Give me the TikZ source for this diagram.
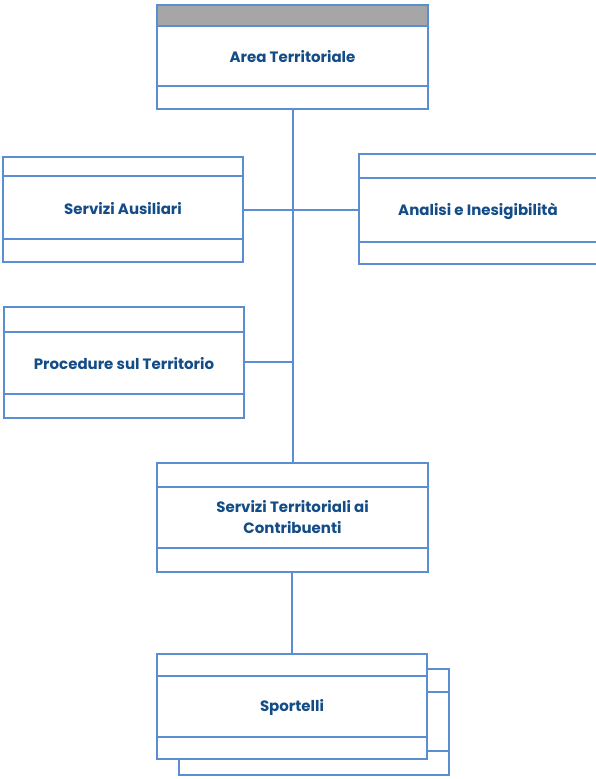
\documentclass[tikz,border=0pt]{standalone}
\usepackage{fontspec}
\setmainfont{Poppins}
\definecolor{lineblue}{HTML}{5B8DD3}
\definecolor{txtblue}{HTML}{134C86}
\definecolor{hdrgrey}{HTML}{A6A6A6}
\begin{document}
\begin{tikzpicture}[x=1pt,y=-1pt,
  boxst/.style={draw=lineblue,line width=1.3pt,fill=white,inner sep=0pt,outer sep=0pt},
  sep/.style={draw=lineblue,line width=1.3pt},
  conn/.style={draw=lineblue,line width=1.6pt},
  lbl/.style={text=txtblue,font=\bfseries\fontsize{15}{21}\selectfont,align=center,inner sep=0pt}]
\useasboundingbox (0,0) rectangle (596,779);
\clip (0,0) rectangle (596,779);
% Area Territoriale
\fill[hdrgrey] (157,5) rectangle (428,26);
\node[boxst,fill=none,minimum width=271pt,minimum height=104pt] (area) at (292.5,57) {};
\draw[sep] (157,26) -- (428,26) (157,86) -- (428,86);
\node[lbl] (areat) at (292.5,57) {Area Territoriale};
% Servizi Ausiliari
\node[boxst,minimum width=240pt,minimum height=105pt] (aus) at (123,209.5) {};
\draw[sep] (3,176) -- (243,176) (3,239) -- (243,239);
\node[lbl] (aust) at (123,209) {Servizi Ausiliari};
% Analisi e Inesigibilita
\node[boxst,minimum width=240pt,minimum height=110pt] (ana) at (479,209) {};
\draw[sep] (359,178) -- (599,178) (359,242) -- (599,242);
\node[lbl] (anat) at (478,211) {Analisi e Inesigibilità};
% Procedure sul Territorio
\node[boxst,minimum width=240pt,minimum height=111pt] (proc) at (124,362.5) {};
\draw[sep] (4,332) -- (244,332) (4,394) -- (244,394);
\node[lbl] (proct) at (124,364) {Procedure sul Territorio};
% Servizi Territoriali ai Contribuenti
\node[boxst,minimum width=271pt,minimum height=109pt] (stc) at (292.5,517.5) {};
\draw[sep] (157,487) -- (428,487) (157,548) -- (428,548);
\node[lbl] (stct) at (292.5,517.5) {Servizi Territoriali ai\\Contribuenti};
% Sportelli (stacked)
\node[boxst,minimum width=270pt,minimum height=106pt] (spb) at (314,722) {};
\draw[sep] (179,692) -- (449,692) (179,751) -- (449,751);
\node[boxst,minimum width=270pt,minimum height=105pt] (sp) at (292,706.5) {};
\draw[sep] (157,676) -- (427,676) (157,737) -- (427,737);
\node[lbl] (spt) at (292,707) {Sportelli};
% connectors
\coordinate (j1) at (293,210);
\coordinate (j2) at (293,362);
\draw[conn] (area.south -| j1) -- (stc.north -| j1);
\draw[conn] (aus.east |- j1) -- (j1);
\draw[conn] (ana.west |- j1) -- (j1);
\draw[conn] (proc.east |- j2) -- (j2);
\draw[conn] (stc.south -| sp.north) -- (sp.north);
\end{tikzpicture}
\end{document}
